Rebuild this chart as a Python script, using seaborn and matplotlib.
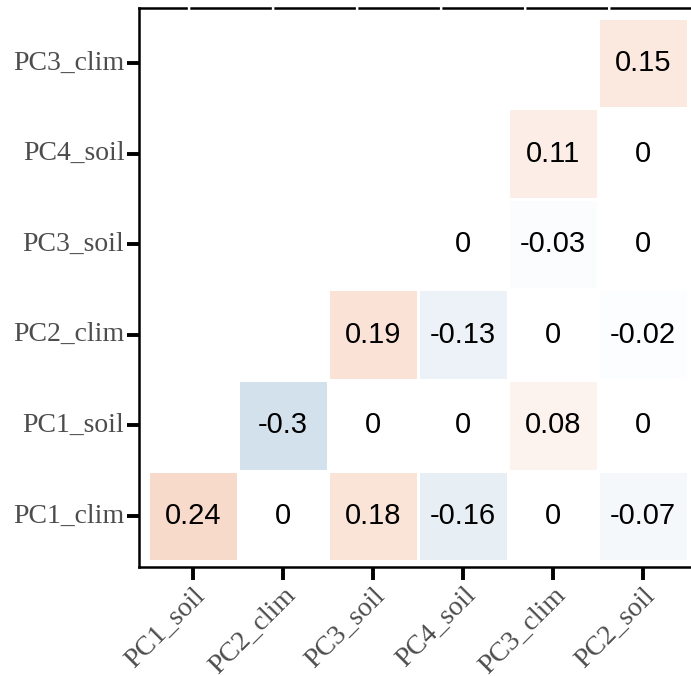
import numpy as np
import pandas as pd
import matplotlib
matplotlib.use("Agg")
import matplotlib.pyplot as plt
from matplotlib.colors import LinearSegmentedColormap
import seaborn as sns

# Correlation matrix (lower triangle), rows listed top to bottom
row_labels = ["PC3_clim", "PC4_soil", "PC3_soil", "PC2_clim", "PC1_soil", "PC1_clim"]
col_labels = ["PC1_soil", "PC2_clim", "PC3_soil", "PC4_soil", "PC3_clim", "PC2_soil"]

r_pc3_clim = [np.nan, np.nan, np.nan, np.nan, np.nan, 0.15]
r_pc4_soil = [np.nan, np.nan, np.nan, np.nan, 0.11, 0.0]
r_pc3_soil = [np.nan, np.nan, np.nan, 0.0, -0.03, 0.0]
r_pc2_clim = [np.nan, np.nan, 0.19, -0.13, 0.0, -0.02]
r_pc1_soil = [np.nan, -0.30, 0.0, 0.0, 0.08, 0.0]
r_pc1_clim = [0.24, 0.0, 0.18, -0.16, 0.0, -0.07]

corr = pd.DataFrame(
    [r_pc3_clim, r_pc4_soil, r_pc3_soil, r_pc2_clim, r_pc1_soil, r_pc1_clim],
    index=row_labels, columns=col_labels,
)
mask = corr.isna()
labels = corr.map(lambda v: "" if pd.isna(v) else f"{v:g}")

sns.set_style("white")
plt.rcParams["lines.scale_dashes"] = False

W, H = 691, 676
fig = plt.figure(figsize=(W / 100, H / 100), dpi=100)
left_px, right_px, top_px, bottom_px = 139, 697, 8, 567
ax = fig.add_axes([left_px / W, (H - bottom_px) / H,
                   (right_px - left_px) / W, (bottom_px - top_px) / H])

# odd number of colour steps so that r = 0 lands exactly on white
cmap = LinearSegmentedColormap.from_list("corr", ["#6D9EC1", "#FFFFFF", "#E46726"], N=257)

sns.heatmap(
    corr, mask=mask, cmap=cmap, vmin=-1, vmax=1,
    annot=labels.values, fmt="", cbar=False,
    linewidths=0.8, linecolor="white", ax=ax,
    annot_kws={"fontsize": 21, "color": "black", "family": "Liberation Sans"},
)

ax.set_xlim(-0.1, 6.1)
ax.set_ylim(6.063, -0.107)
ax.set_xlabel("")
ax.set_ylabel("")

# axis frame: solid left/bottom, dashed top
for name, sp in ax.spines.items():
    sp.set_visible(name in ("left", "bottom", "top"))
    sp.set_color("black")
    sp.set_linewidth(1.8)
ax.spines["top"].set_linestyle((23, (56.9, 3.6)))

ax.set_xticks(np.arange(len(col_labels)) + 0.5)
ax.set_yticks(np.arange(len(row_labels)) + 0.5)
ax.tick_params(axis="both", which="major", length=9, width=2.8, color="black",
               left=True, bottom=True)
ax.tick_params(axis="y", pad=1.5)
ax.tick_params(axis="x", pad=2.5)

tick_font = {"family": "Liberation Serif", "size": 20, "color": "#4D4D4D"}
ax.set_yticklabels(row_labels, rotation=0, va="center", ha="right", **tick_font)
ax.set_xticklabels(col_labels, rotation=45, ha="right", va="top",
                   rotation_mode="anchor", **tick_font)

fig.savefig("out.png", dpi=100)
